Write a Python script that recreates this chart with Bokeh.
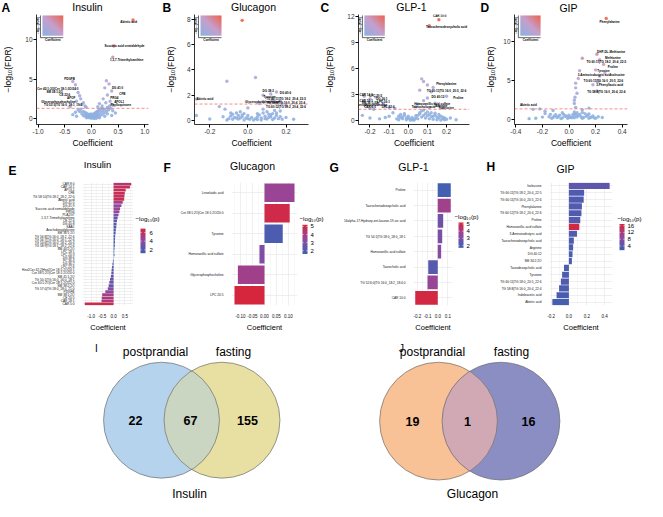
import numpy as np
from bokeh.plotting import figure
from bokeh.layouts import row, column
from bokeh.models import (Range1d, FactorRange, Span, LinearColorMapper,
                          FixedTicker, ColumnDataSource, NumeralTickFormatter)
from bokeh.core.properties import value
from bokeh.transform import linear_cmap
from bokeh.embed import file_html
from bokeh.resources import INLINE

FONT = "Liberation Sans"

# ======================= DATA =======================
FDR_LINE = 1.301  # -log10(0.05)

# ---- A: Insulin volcano ----
INS_CLOUD_X = [-0.22,-0.18,-0.15,-0.12,-0.10,-0.08,-0.06,-0.04,-0.02,0.00,0.02,0.04,0.06,0.08,0.10,0.12,0.14,0.16,0.18,0.20,
               0.22,0.24,0.26,0.28,0.30,0.32,0.34,0.36,-0.25,-0.20,-0.16,-0.13,-0.11,-0.07,-0.03,0.01,0.03,0.05,0.07,0.09,
               0.11,0.13,0.15,0.17,0.19,0.21,0.05,-0.01,0.09,-0.05,-0.09,0.15,0.25,0.30,-0.30,-0.35,0.40,0.45,-0.28,0.38,
               0.00,0.02,0.04,0.06,0.08,-0.02,-0.04,0.10,0.12,-0.06,0.03,0.07,0.11,-0.01,0.05]
INS_CLOUD_Y = [0.9,0.6,0.4,0.3,0.7,0.2,0.45,0.1,0.3,0.05,0.2,0.1,0.35,0.15,0.4,0.25,0.6,0.35,0.8,0.5,
               1.0,0.7,1.2,0.9,1.4,1.1,1.6,1.3,1.1,1.2,0.9,0.8,0.5,0.6,0.5,0.4,0.55,0.6,0.7,0.8,
               0.9,1.0,1.1,1.2,1.3,1.25,0.02,0.15,0.05,0.25,0.1,0.1,0.3,0.6,0.8,0.5,1.0,0.7,0.3,0.4,
               0.25,0.35,0.3,0.5,0.45,0.4,0.35,0.2,0.5,0.3,0.15,0.1,0.7,0.6,0.45]
INS_SIG_X = [0.78,0.42,0.40,-0.35,-0.30,0.28,0.33,0.25,0.38,-0.25,-0.22,0.30,-0.20,0.22,0.35,-0.28,-0.15,0.27,-0.18,0.15,-0.12,0.40,-0.40,0.20,-0.10,0.12]
INS_SIG_Y = [12.5,9.2,7.8,4.7,4.3,4.8,4.4,3.9,3.5,3.3,2.9,3.0,2.5,2.5,2.2,2.2,2.0,2.0,1.8,1.9,1.6,1.7,1.5,1.6,1.45,1.5]
INS_LAB = ["Abietic acid","Succinic acid semialdehyde","1,3,7-Trimethylxanthine","PDGFB","Cer 42:1;3O|Cer 18:1;3O/24:0",
           "SM 38:1;2O","CE 22:6","APOF","Glycerophosphocholine","TG 53:3|TG 16:0_18:1_19:2","DG 41:0","CFB","PRG4","APOL1","Phylloquinone"]
INS_LAB_X = [0.70,0.62,0.66,-0.41,-0.63,-0.69,-0.50,-0.38,-0.62,-0.53,0.49,0.58,0.43,0.52,0.55]
INS_LAB_Y = [12.3,9.2,7.5,5.0,3.75,3.4,3.0,2.6,2.2,1.75,3.9,3.2,2.65,2.2,1.75]

# ---- B: Glucagon volcano ----
GLU_CLOUD_X = [-0.10,-0.09,-0.08,-0.07,-0.06,-0.05,-0.04,-0.03,-0.02,-0.01,0.00,0.01,0.02,0.03,0.04,0.05,0.06,0.07,0.08,0.09,
               0.10,0.11,0.12,0.13,0.14,0.15,0.16,0.17,-0.08,-0.05,-0.02,0.07,0.10,0.13,-0.11,0.18,-0.06,0.09,0.11,-0.04,
               0.00,0.05,0.12,-0.03,-0.13,0.20,0.24,-0.20,-0.27,0.15,0.05,-0.09,0.14,0.08,0.17,-0.12]
GLU_CLOUD_Y = [0.15,0.35,0.5,0.25,0.6,0.4,0.7,0.3,0.55,0.2,0.4,0.1,0.25,0.05,0.15,0.3,0.45,0.2,0.6,0.35,
               0.7,0.5,0.3,0.55,0.2,0.4,0.15,0.3,0.1,0.12,0.05,0.05,0.12,0.08,0.05,0.1,0.2,0.15,0.25,0.2,
               0.15,0.08,0.45,0.45,0.3,0.25,0.1,0.12,0.4,0.6,0.55,0.6,0.8,0.9,0.75,0.9]
GLU_SIG_X = [-0.03,0.04,-0.11,0.08,0.12,0.15,0.13,0.17,0.11,0.08,0.15,-0.27,0.06,0.18,0.00,-0.15,0.20]
GLU_SIG_Y = [7.9,3.4,3.1,2.0,2.1,2.25,1.65,1.55,1.45,1.5,1.4,1.7,1.35,1.35,1.0,1.1,1.2]
GLU_LAB = ["DG 38:2","DG 40:6","Tyrosine","TG 60:11|TG 18:2_20:4_22:5","Glycerophosphocholine",
           "TG 58:8|TG 16:0_20:4_22:4","TG 60:12|TG 18:2_20:4_22:6","Abietic acid"]
GLU_LAB_X = [0.107,0.197,0.114,0.2,0.075,0.2,0.2,-0.226]
GLU_LAB_Y = [2.39,2.22,1.86,1.72,1.5,1.41,1.13,1.72]

# ---- C: GLP-1 volcano ----
GLP_CLOUD_X = [-0.06,-0.05,-0.04,-0.03,-0.02,-0.01,0.00,0.01,0.02,0.03,0.04,0.05,0.06,0.07,0.08,0.09,0.10,0.11,0.12,0.13,
               0.14,0.15,0.16,0.17,0.18,0.19,0.20,-0.05,-0.03,-0.01,0.01,0.03,0.05,0.07,0.09,0.11,0.13,0.15,0.17,0.19,
               -0.04,0.00,0.04,0.08,0.12,0.16,-0.10,-0.15,-0.20,-0.24,0.22,0.25,-0.08,-0.12,0.06,0.10,0.02,-0.02,0.14,0.18]
GLP_CLOUD_Y = [0.2,0.5,0.7,0.4,0.8,0.3,0.5,0.2,0.1,0.15,0.3,0.6,0.9,1.1,1.2,0.8,1.0,0.7,0.9,0.5,
               0.6,0.4,0.3,0.5,0.2,0.3,0.15,0.1,0.2,0.1,0.05,0.05,0.2,0.4,0.3,0.2,0.15,0.1,0.05,0.1,
               0.35,0.25,0.55,0.6,0.45,0.7,0.5,0.2,0.3,0.6,0.3,0.1,0.9,0.35,0.75,0.55,0.35,0.6,0.85,0.4]
GLP_SIG_X = [0.16,0.11,0.07,0.08,0.10,0.13,0.06,0.12,0.20,0.10,0.08,0.14,0.05,0.16,0.04,0.11,0.18,
             -0.23,-0.20,-0.17,-0.14,-0.13,-0.16,-0.12,-0.10,-0.22,-0.07,-0.20,-0.18]
GLP_SIG_Y = [11.6,10.9,4.8,4.5,4.1,3.8,3.5,3.3,2.8,2.6,2.3,2.0,1.9,1.7,1.6,1.5,1.45,
             2.8,2.5,2.7,2.3,2.0,1.9,1.6,1.5,1.8,1.4,1.4,1.3]
GLP_LAB = ["CAR 10:0","Taurochenodeoxycholic acid","Phenylalanine","TG 60:11|TG 16:0_20:5_22:6","Proline","DG 40:12",
           "Homovanillic acid sulfate","Arginine","Isoleucine","Taurocholic acid","CAR 14:1","LPC 20:5","CAR 16:1",
           "SM 36:1;2O","Glycerophosphocholine","DG 36:1","LPC 16:1","CAR 6:0","LPC 22:6"]
GLP_LAB_X = [0.164,0.2,0.199,0.2,0.262,0.155,0.125,0.173,0.2,0.08,-0.22,-0.17,-0.22,-0.2,-0.2,-0.138,-0.13,-0.2,-0.105]
GLP_LAB_Y = [12.08,10.8,4.25,3.48,2.6,2.7,2.0,1.7,1.45,1.6,2.93,2.9,2.25,2.05,1.8,2.5,2.2,1.55,1.55]

# ---- D: GIP volcano ----
GIP_CLOUD_X = [-0.15,-0.13,-0.11,-0.09,-0.07,-0.05,-0.03,-0.01,0.01,0.03,0.05,0.07,0.09,0.11,0.13,0.15,0.17,0.19,-0.14,-0.10,
               -0.06,-0.02,0.02,0.06,0.10,0.14,0.18,-0.12,-0.08,-0.04,0.00,0.04,0.08,0.12,0.16,0.20,-0.20,-0.25,0.25,-0.30,
               0.03,0.05,0.04,0.06,-0.18,0.22,-0.05,0.10,0.00,0.15]
GIP_CLOUD_Y = [0.3,0.1,0.4,0.2,0.5,0.15,0.35,0.1,0.25,0.6,0.7,0.45,0.3,0.2,0.35,0.1,0.25,0.15,0.6,0.55,
               0.05,0.4,0.15,0.8,0.1,0.5,0.4,0.2,0.3,0.6,0.2,0.9,0.6,0.7,0.2,0.1,0.25,0.1,0.2,0.05,
               0.35,0.45,0.15,0.25,0.7,0.3,0.8,0.85,0.5,0.65]
GIP_SIG_X = [0.28,0.10,0.21,0.23,0.26,0.08,0.20,0.27,0.23,0.05,0.22,0.18,0.21,0.07,0.06,0.05,0.045,0.04,0.05,0.04,
             -0.27,-0.22,-0.12,0.10,0.15,-0.18]
GIP_SIG_Y = [12.9,7.8,8.3,7.6,7.0,6.2,6.3,5.9,5.5,4.6,4.8,4.4,3.6,5.2,3.3,4.0,2.8,2.4,1.5,2.0,
             1.24,1.3,1.1,1.2,1.4,1.0]
GIP_LAB = ["Phenylalanine","DHP-DL-Methionine","Methionine","TG 60:11|TG 18:2_20:4_22:5","Proline","Tyrosine","Isoleucine",
           "3-Aminoisobutyric acid","TG 60:11|TG 16:0_20:5_22:6","3-Phenyllactic acid","TG 58:8|TG 16:0_20:4_22:4","Abietic acid"]
GIP_LAB_X = [0.306,0.317,0.33,0.28,0.33,0.259,0.364,0.19,0.259,0.306,0.28,-0.306]
GIP_LAB_Y = [12.5,8.65,7.9,7.33,6.75,6.18,5.75,5.75,4.9,4.4,3.47,1.82]

# ---- E: Insulin bars ----
E_CATS = ["CAR 8:0","CAR 14:1","APOL1","CFB","TG 58:10|TG 18:2_18:2_22:6","Abietic acid","DG 41:0","DG 41:9",
          "Succinic acid semialdehyde","PRG4","PLA2G7","1,3,7-Trimethylxanthine","CE 22:6","DG 40:8","SAA1",
          "Arachidonoylglycine","SM 36:1;2O","TG 56:8|TG 16:0_18:2_22:6","TG 56:7|TG 16:0_18:1_22:6",
          "TG 54:6|TG 16:0_18:2_20:4","TG 58:9|TG 18:1_18:2_22:6","SM 40:2;2O","LPC 18:1","LPC 20:3","DG 38:6",
          "PC 36:4","DG 36:2","LPC 22:6","Hex2Cer 42:2|Hex2Cer 18:1;2O/24:1","Cer 38:1;2O|Cer 18:1;2O/20:0",
          "SM 41:1;2O","TG 50:1|TG 16:0_16:0_18:1","Cer 40:1;2O|Cer 18:1;2O/22:0","SM 38:2;2O",
          "TG 57:0|TG 18:0_18:0_21:0","PDGFB","SM 38:1;2O","CE 20:5","CAR 18:1","CAR 5:0"]
E_COEF = [0.79,0.73,0.54,0.50,0.48,0.47,0.41,0.35,0.29,0.26,0.22,0.18,0.15,0.13,0.12,0.10,0.09,0.07,0.06,0.06,
          0.055,0.04,0.03,0.04,0.01,-0.03,-0.05,-0.07,-0.09,-0.10,-0.12,-0.16,-0.19,-0.22,-0.26,-0.37,-0.51,-0.53,-0.54,-1.29]
E_LOGP = [5.5,6.0,6.2,6.3,6.0,6.5,4.5,4.0,4.5,4.2,3.8,2.0,2.5,2.2,2.0,2.0,1.8,1.8,1.7,1.7,
          1.6,1.6,1.5,1.6,1.5,1.6,1.7,1.8,2.0,2.2,2.5,3.0,2.8,2.5,3.5,4.0,4.8,5.2,5.0,6.5]

# ---- F: Glucagon bars ----
F_CATS = ["Linoelaidic acid","Cer 38:1;2O|Cer 18:1;2O/20:0","Tyrosine","Homovanillic acid sulfate",
          "Glycerophosphocholine","LPC 20:5"]
F_COEF = [0.125,0.105,0.076,-0.021,-0.111,-0.125]
F_LOGP = [3.6,5.0,1.9,3.0,3.8,5.2]

# ---- G: GLP-1 bars ----
G_CATS = ["Proline","Taurochenodeoxycholic acid","16alpha-17-Hydroxy-ent-kauran-19-oic acid",
          "TG 54:1|TG 18:0_18:0_18:1","Homovanillic acid sulfate","Taurocholic acid",
          "TG 52:6;0|TG 16:0_18:2_18:4;0","CAR 10:0"]
G_COEF = [0.127,0.127,0.053,0.043,0.033,-0.093,-0.100,-0.220]
G_LOGP = [1.8,3.8,2.7,3.0,3.2,2.2,3.6,5.1]

# ---- H: GIP bars ----
H_CATS = ["Isoleucine","TG 60:11|TG 18:2_20:4_22:5","TG 60:11|TG 16:0_20:5_22:6","Phenylalanine",
          "TG 60:12|TG 18:2_20:4_22:6","Proline","Homovanillic acid sulfate","3-Aminoisobutyric acid",
          "Taurochenodeoxycholic acid","Arginine","DG 40:12","SM 34:2;2O","Taurodeoxycholic acid","Tyrosine",
          "TG 60:11|TG 18:0_20:5_22:6","TG 58:8|TG 16:0_20:4_22:4","Indoleacetic acid","Abietic acid"]
H_COEF = [0.455,0.17,0.165,0.145,0.14,0.127,0.116,0.09,0.055,0.047,0.04,0.033,-0.055,-0.076,-0.09,-0.11,-0.138,-0.185]
H_LOGP = [4.5,3.0,3.0,3.5,3.0,3.5,16.5,3.5,3.0,2.8,2.6,2.5,2.8,2.6,3.2,2.8,2.5,2.2]

# ---- I/J: Venn counts ----
VENN_SETS = ["postprandial", "fasting"]
VENN_INSULIN = [22, 67, 155]     # postprandial only, both, fasting only
VENN_GLUCAGON = [19, 1, 16]

# ======================= STYLE =======================
def ramp(stops, n=256):
    s = np.array(stops, dtype=float)
    pos = np.linspace(0, 1, len(s))
    t = np.linspace(0, 1, n)
    cols = np.stack([np.interp(t, pos, s[:, k]) for k in range(3)], axis=1)
    return ["#%02x%02x%02x" % tuple(int(round(v)) for v in c) for c in cols]

VOLC_STOPS = [(140, 178, 226), (198, 160, 206), (238, 98, 74)]
BAR_STOPS = [(62, 96, 178), (146, 72, 160), (214, 38, 62)]
VOLC_PAL = ramp(VOLC_STOPS)
BAR_PAL = ramp(BAR_STOPS)


def gradient_rgba(n=24):
    u = np.linspace(0, 1, n)
    U, V = np.meshgrid(u, u)
    t = (U + V) / 2
    s = np.array(VOLC_STOPS, float)
    pos = np.linspace(0, 1, len(s))
    img = np.empty((n, n), dtype=np.uint32)
    view = img.view(dtype=np.uint8).reshape((n, n, 4))
    for k in range(3):
        view[:, :, k] = np.interp(t, pos, s[:, k]).astype(np.uint8)
    view[:, :, 3] = 255
    return img

GRAD = gradient_rgba()

TOTAL_W, TOTAL_H = 647, 501
HEAD1 = 13
VOL_H = 137
HEAD2 = 28
BAR_H = 160
VENN_H = TOTAL_H - HEAD1 - VOL_H - HEAD2 - BAR_H
VT, VHF = 1, 114


def blank(width, height):
    p = figure(width=width, height=height, x_range=Range1d(0, width), y_range=Range1d(0, height),
               output_backend="svg", toolbar_location=None, x_axis_type=None, y_axis_type=None,
               min_border=0)
    p.grid.visible = False
    p.outline_line_color = None
    return p


def ptext(p, xs, ys, texts, size, bold=False, align="center", angle=0.0):
    p.text(x=xs, y=ys, text=texts, text_font=value(FONT), text_font_size=size,
           text_font_style="bold" if bold else "normal", text_align=align,
           text_baseline="middle", angle=angle, text_color="black")


def header(height, row_top, titles, tx, ty, tsize, letters, lx, ly):
    p = blank(TOTAL_W, height)
    for t, x, y, s in zip(titles, tx, ty, tsize):
        ptext(p, [x], [height - (y - row_top)], [t], s)
    ptext(p, lx, [height - (y - row_top) for y in ly], letters, "12px", bold=True, align="left")
    return p


def volcano(cx, cy, sx, sy, labs, lx, ly, xr, yr, xticks, yticks, width, L, W, cmax, ylab_standoff):
    H, T, Hf = VOL_H, VT, VHF
    p = figure(width=width, height=H, x_range=Range1d(*xr), y_range=Range1d(*yr),
               output_backend="svg", toolbar_location=None,
               min_border_left=L, min_border_right=width - L - W,
               min_border_top=T, min_border_bottom=H - T - Hf)
    p.outline_line_color = None
    p.grid.visible = False
    for ax in (p.xaxis, p.yaxis):
        ax.axis_line_color = "black"
        ax.axis_line_width = 0.8
        ax.major_tick_line_color = "black"
        ax.major_tick_in = 0
        ax.major_tick_out = 3
        ax.minor_tick_line_color = None
        ax.major_label_text_font_size = "6.5px"
        ax.major_label_text_color = "#333333"
        ax.major_label_text_font = FONT
        ax.major_label_standoff = 1
        ax.axis_label_text_font = FONT
        ax.axis_label_text_font_style = "normal"
        ax.axis_label_text_font_size = "8.5px"
        ax.axis_label_text_color = "black"
    p.xaxis.axis_label = "Coefficient"
    p.xaxis.axis_label_standoff = 1
    p.yaxis.axis_label = "−log₁₀(FDR)"
    p.yaxis.axis_label_standoff = ylab_standoff
    p.xaxis.ticker = FixedTicker(ticks=xticks)
    p.yaxis.ticker = FixedTicker(ticks=yticks)
    p.xaxis.formatter = NumeralTickFormatter(format="0.0")
    p.add_layout(Span(location=FDR_LINE, dimension="width", line_color="#E8736C",
                      line_dash="3 2", line_width=0.8))
    src = ColumnDataSource(dict(x=list(cx) + list(sx), y=list(cy) + list(sy)))
    p.scatter("x", "y", source=src, size=3.4, line_color=None, fill_alpha=0.9,
              fill_color=linear_cmap("y", VOLC_PAL, 0, cmax))
    p.text(x=lx, y=ly, text=labs, text_font=value(FONT), text_font_size="3px", text_font_style="bold",
           text_align="center", text_baseline="middle", text_color="black")

    def fx(px):
        return xr[0] + px / W * (xr[1] - xr[0])

    def fy(py):
        return yr[1] - py / Hf * (yr[1] - yr[0])

    sl, st, ss = 6, 1, 21
    p.image_rgba(image=[GRAD], x=fx(sl), y=fy(st + ss), dw=fx(sl + ss) - fx(sl), dh=fy(st) - fy(st + ss))
    p.segment(x0=[fx(sl - 2), fx(sl - 2)], y0=[fy(st), fy(st + ss + 2)],
              x1=[fx(sl - 2), fx(sl + ss)], y1=[fy(st + ss + 2), fy(st + ss + 2)],
              line_color="black", line_width=0.6)
    p.text(x=[fx(sl + ss / 2)], y=[fy(st + ss + 4.5)], text=["Coefficient"], text_font=value(FONT),
           text_font_size="3px", text_font_style="bold", text_align="center", text_baseline="middle")
    p.text(x=[fx(sl - 4.5)], y=[fy(st + ss / 2)], text=["−log₁₀(FDR)"], angle=np.pi / 2,
           text_font=value(FONT), text_font_size="3px", text_font_style="bold",
           text_align="center", text_baseline="middle")
    return p


def barpanel(cats, coef, logp, xr, xticks, minor, xfmt, width, L, W, T, Hf, crange):
    H = BAR_H
    p = figure(width=width, height=H, x_range=Range1d(*xr), y_range=FactorRange(factors=list(reversed(cats))),
               output_backend="svg", toolbar_location=None,
               min_border_left=L, min_border_right=width - L - W,
               min_border_top=T, min_border_bottom=H - T - Hf)
    p.outline_line_color = None
    mapper = LinearColorMapper(palette=BAR_PAL, low=crange[0], high=crange[1])
    src = ColumnDataSource(dict(cat=cats, coef=coef, logp=logp))
    p.hbar(y="cat", left=0, right="coef", height=0.9, source=src,
           fill_color={"field": "logp", "transform": mapper}, line_color=None)
    p.xaxis.ticker = FixedTicker(ticks=xticks, minor_ticks=minor)
    p.xaxis.formatter = NumeralTickFormatter(format=xfmt)
    p.xgrid.grid_line_color = "#E4E4E4"
    p.xgrid.grid_line_width = 0.6
    p.xgrid.minor_grid_line_color = "#F1F1F1"
    p.xgrid.minor_grid_line_width = 0.5
    p.ygrid.grid_line_color = "#E4E4E4"
    p.ygrid.grid_line_width = 0.6
    for ax in (p.xaxis, p.yaxis):
        ax.axis_line_color = None
        ax.major_tick_line_color = None
        ax.minor_tick_line_color = None
        ax.major_label_text_font = FONT
        ax.major_label_text_color = "#111111"
        ax.major_label_standoff = 2
    p.yaxis.major_label_text_font_size = "3.2px"
    p.xaxis.major_label_text_font_size = "4.5px"
    p.xaxis.axis_label = "Coefficient"
    p.xaxis.axis_label_text_font = FONT
    p.xaxis.axis_label_text_font_style = "normal"
    p.xaxis.axis_label_text_font_size = "7.5px"
    p.xaxis.axis_label_text_color = "black"
    p.xaxis.axis_label_standoff = 2
    return p


def legend_fig(width, crange, cticks, bar_x, bar_top, bar_bot, title_x, title_y, lab_x):
    H = BAR_H
    p = blank(width, H)
    lo, hi = crange
    mapper = LinearColorMapper(palette=BAR_PAL, low=lo, high=hi)
    yb, yt = H - bar_bot, H - bar_top
    grad = np.linspace(lo, hi, 128).reshape(128, 1)
    p.image(image=[grad], x=bar_x, y=yb, dw=5, dh=yt - yb, color_mapper=mapper)
    ty = [yb + (t - lo) / (hi - lo) * (yt - yb) for t in cticks]
    n = len(cticks)
    p.segment(x0=[bar_x] * n, x1=[bar_x + 1.2] * n, y0=ty, y1=ty, line_color="white", line_width=0.6)
    p.segment(x0=[bar_x + 3.8] * n, x1=[bar_x + 5] * n, y0=ty, y1=ty, line_color="white", line_width=0.6)
    ptext(p, [lab_x] * n, ty, [str(t) for t in cticks], "6px", align="left")
    ptext(p, [title_x], [H - title_y], ["−log₁₀(p)"], "6.2px", align="left")
    return p


# ======================= PANELS =======================
h1 = header(HEAD1, 0, ["Insulin", "Glucagon", "GLP-1", "GIP"], [87, 253, 411, 568], [6.5, 6.5, 6.5, 7],
            ["10.5px"] * 4, ["A", "B", "C", "D"], [1, 162, 320, 480], [7, 7, 7, 7])

pA = volcano(INS_CLOUD_X, INS_CLOUD_Y, INS_SIG_X, INS_SIG_Y, INS_LAB, INS_LAB_X, INS_LAB_Y,
             (-1.03, 1.07), (-0.75, 13.2), [-1.0, -0.5, 0.0, 0.5, 1.0], [0, 5, 10], 161, 35, 113, 12.5, 9)
pB = volcano(GLU_CLOUD_X, GLU_CLOUD_Y, GLU_SIG_X, GLU_SIG_Y, GLU_LAB, GLU_LAB_X, GLU_LAB_Y,
             (-0.28, 0.318), (-0.31, 8.36), [-0.2, 0.0, 0.2], [0, 2, 4, 6, 8], 161, 33, 114, 7.9, 8)
pC = volcano(GLP_CLOUD_X, GLP_CLOUD_Y, GLP_SIG_X, GLP_SIG_Y, GLP_LAB, GLP_LAB_X, GLP_LAB_Y,
             (-0.26, 0.32), (-0.45, 12.2), [-0.2, -0.1, 0.0, 0.1, 0.2], [0, 3, 6, 9, 12], 161, 33, 114, 11.6, 9)
pD = volcano(GIP_CLOUD_X, GIP_CLOUD_Y, GIP_SIG_X, GIP_SIG_Y, GIP_LAB, GIP_LAB_X, GIP_LAB_Y,
             (-0.41, 0.44), (-0.7, 13.4), [-0.4, -0.2, 0.0, 0.2, 0.4], [0, 5, 10], 164, 27, 117, 12.9, 4)

h2 = header(HEAD2, 150, ["Insulin", "Glucagon", "GLP-1", "GIP"], [97, 252, 413, 565], [164, 165, 166, 168],
            ["9.5px", "10.5px", "10.5px", "10.5px"], ["E", "F", "G", "H"], [8, 163, 329, 486], [170, 167, 167, 166])

pE = barpanel(E_CATS, E_COEF, E_LOGP, (-1.39, 0.89), [-1.0, -0.5, 0.0, 0.5],
              [-1.25, -0.75, -0.25, 0.25, 0.75], "0.0", 133, 82, 51, 2, 125, (1.2, 6.9))
lE = legend_fig(27, (1.2, 6.9), [2, 4, 6], 7, 60, 92, 2, 47, 16)
pF = barpanel(F_CATS, F_COEF, F_LOGP, (-0.1375, 0.1375), [-0.10, -0.05, 0.0, 0.05, 0.10],
              [-0.125, -0.075, -0.025, 0.025, 0.075, 0.125], "0.00", 139, 71, 66, 4, 123, (1.6, 5.2))
lF = legend_fig(28, (1.6, 5.2), [2, 3, 4, 5], 3, 55, 93, 0, 47, 11)
pG = barpanel(G_CATS, G_COEF, G_LOGP, (-0.237, 0.144), [-0.2, -0.1, 0.0, 0.1],
              [-0.15, -0.05, 0.05], "0.0", 127, 86, 39, 0, 127, (1.7, 5.2))
lG = legend_fig(26, (1.7, 5.2), [2, 3, 4, 5], 4, 52, 85, 0, 44, 12)
pH = barpanel(H_CATS, H_COEF, H_LOGP, (-0.217, 0.487), [-0.2, 0.0, 0.2, 0.4],
              [-0.1, 0.1, 0.3], "0.0", 134, 69, 63, 4, 124, (1.5, 17.0))
lH = legend_fig(33, (1.5, 17.0), [4, 8, 12, 16], 5, 54, 88, 3, 47, 13)

# ---- Venn row ----
pv = blank(TOTAL_W, VENN_H)
VS = 0.95


def vy(ref_y):
    return VENN_H - (ref_y - 342) * VS


def venn(counts, title, letter, cx1, cx2, cy_ref, r_ref, c1, c2, c12, num_x, set_x, title_x, letter_x):
    r = r_ref * VS
    cy = vy(cy_ref)
    pv.circle(x=[cx1], y=[cy], radius=r, fill_color=c1, line_color=None)
    pv.circle(x=[cx2], y=[cy], radius=r, fill_color=c2, line_color=None)
    d = cx2 - cx1
    a = np.arccos(d / (2 * r))
    t1 = np.linspace(-a, a, 60)
    t2 = np.linspace(np.pi - a, np.pi + a, 60)
    xs = list(cx1 + r * np.cos(t1)) + list(cx2 + r * np.cos(t2))
    ys = list(cy + r * np.sin(t1)) + list(cy + r * np.sin(t2))
    pv.patch(xs, ys, fill_color=c12, line_color=None)
    pv.circle(x=[cx1, cx2], y=[cy, cy], radius=r, fill_alpha=0, line_color="#6E6E6E", line_width=0.7)
    ptext(pv, num_x, [cy] * 3, [str(c) for c in counts], "12.5px", bold=True)
    ptext(pv, set_x, [vy(356)] * 2, VENN_SETS, "12px")
    ptext(pv, [title_x], [vy(506)], [title], "12px")
    ptext(pv, [letter_x], [vy(352)], [letter], "10px")


venn(VENN_INSULIN, "Insulin", "I", 161, 221.5, 428, 61, "#B5D3EC", "#E7E0A2", "#CAD6C2",
     [135, 190, 247], [155, 233], 189, 96)
venn(VENN_GLUCAGON, "Glucagon", "J", 438, 500.5, 429, 62, "#F9C196", "#8B8EC3", "#D1A9B4",
     [412, 467, 528], [432, 511], 472, 401)

layout = column(h1, row(pA, pB, pC, pD), h2, row(pE, lE, pF, lF, pG, lG, pH, lH), pv)
open("out.html", "w").write(file_html(layout, INLINE))
